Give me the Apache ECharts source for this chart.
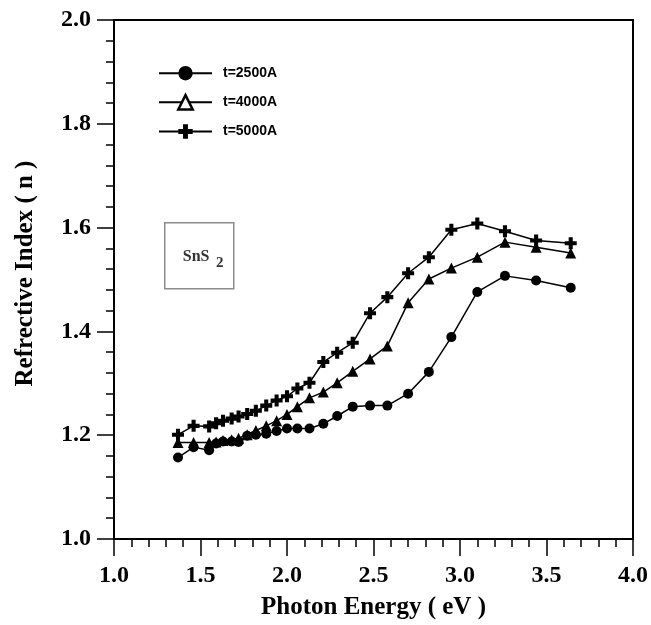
<!DOCTYPE html>
<html>
<head>
<meta charset="utf-8">
<script src="https://cdn.jsdelivr.net/npm/echarts@6/dist/echarts.min.js"></script>
<style>
  html, body { margin: 0; padding: 0; background: #fff; }
  #chart { width: 651px; height: 625px; }
</style>
</head>
<body>
<div id="chart"></div>
<script>
// Photon energy (eV) shared by the three films
const photonEnergy = [1.37, 1.46, 1.55, 1.59, 1.63, 1.68, 1.72, 1.77, 1.82, 1.88, 1.94, 2.00, 2.06,
                      2.13, 2.21, 2.29, 2.38, 2.48, 2.58, 2.70, 2.82, 2.95, 3.10, 3.26, 3.44, 3.64];

// Refractive index n for each film thickness
const n2500 = [1.157, 1.177, 1.171, 1.184, 1.188, 1.188, 1.187, 1.199, 1.201, 1.203, 1.208, 1.213, 1.213,
               1.213, 1.222, 1.237, 1.255, 1.257, 1.257, 1.280, 1.322, 1.389, 1.476, 1.507, 1.498, 1.484];
const n4000 = [1.186, 1.186, 1.186, 1.187, 1.190, 1.191, 1.194, 1.201, 1.209, 1.218, 1.228, 1.240, 1.255,
               1.272, 1.283, 1.301, 1.323, 1.347, 1.372, 1.455, 1.501, 1.522, 1.543, 1.572, 1.562, 1.551];
const n5000 = [1.201, 1.218, 1.217, 1.223, 1.228, 1.232, 1.236, 1.241, 1.247, 1.257, 1.267, 1.275, 1.290,
               1.301, 1.341, 1.359, 1.378, 1.435, 1.466, 1.512, 1.543, 1.596, 1.608, 1.593, 1.575, 1.570];

const seriesNames = ['t=2500A', 't=4000A', 't=5000A'];
const xTicks = { min: 1.0, max: 4.0, step: 0.5 };
const yTicks = { min: 1.0, max: 2.0, step: 0.2 };

const plusPath = 'path://M3.3,0h3.4v3.3h3.3v3.4h-3.3v3.3h-3.4v-3.3h-3.3v-3.4h3.3z';
const serifBold = { fontFamily: '"Liberation Serif", "DejaVu Serif", serif', fontWeight: 'bold', color: '#000' };

const pair = (ys) => photonEnergy.map((x, i) => [x, ys[i]]);

function lineSeries(name, ys, symbol, size) {
  return {
    name, type: 'line', data: pair(ys),
    symbol, symbolSize: size,
    showAllSymbol: true,
    lineStyle: { color: '#000', width: 1.5 },
    itemStyle: { color: '#000', borderColor: '#000', borderWidth: 0 },
    emphasis: { disabled: true },
    animation: false
  };
}

const chart = echarts.init(document.getElementById('chart'), null, { renderer: 'canvas' });

const axisCommon = {
  type: 'value',
  axisLine: { show: true, lineStyle: { color: '#000', width: 2 } },
  axisTick: { show: true, inside: false, length: 17, lineStyle: { color: '#000', width: 1.5 } },
  minorTick: { show: true, splitNumber: 5, length: 8, lineStyle: { color: '#000', width: 1.5 } },
  splitLine: { show: false },
  minorSplitLine: { show: false }
};

chart.setOption({
  backgroundColor: '#fff',
  animation: false,
  grid: {
    left: 114, right: 18, top: 20, bottom: 86,
    show: true, borderColor: '#000', borderWidth: 2, backgroundColor: 'transparent'
  },
  legend: {
    orient: 'vertical',
    left: 158, top: 66, padding: 0,
    itemWidth: 53, itemHeight: 18, itemGap: 13.5,
    textStyle: { fontFamily: '"Liberation Sans", Arial, sans-serif', fontWeight: 'bold', fontSize: 14, color: '#000', padding: [0, 0, 0, 6] },
    data: [
      { name: seriesNames[0] },
      { name: seriesNames[1], itemStyle: { color: '#fff', borderColor: '#000', borderWidth: 2.5 } },
      { name: seriesNames[2] }
    ]
  },
  xAxis: Object.assign({}, axisCommon, {
    min: xTicks.min, max: xTicks.max, interval: xTicks.step,
    axisLabel: Object.assign({ fontSize: 24, margin: 25, formatter: v => v.toFixed(1) }, serifBold),
    name: 'Photon Energy ( eV )',
    nameLocation: 'middle', nameGap: 56,
    nameTextStyle: Object.assign({ fontSize: 25 }, serifBold)
  }),
  yAxis: Object.assign({}, axisCommon, {
    min: yTicks.min, max: yTicks.max, interval: yTicks.step,
    axisLabel: Object.assign({ fontSize: 24, margin: 23, formatter: v => v.toFixed(1) }, serifBold),
    name: 'Refrective Index ( n )',
    nameLocation: 'middle', nameGap: 76,
    nameTextStyle: Object.assign({ fontSize: 25, padding: [0, 0, 0, 12] }, serifBold)
  }),
  series: [
    lineSeries(seriesNames[0], n2500, 'circle', 10),
    lineSeries(seriesNames[1], n4000, 'triangle', 11),
    lineSeries(seriesNames[2], n5000, plusPath, 12)
  ],
  graphic: [
    {
      type: 'group', left: 164, top: 222,
      children: [
        { type: 'rect', shape: { x: 0, y: 0, width: 69, height: 66 },
          style: { fill: '#fff', stroke: '#8c8c8c', lineWidth: 1.5 } },
        { type: 'text', x: 18, y: 21,
          style: {
            text: '{a|SnS}  {b|2}',
            rich: {
              a: { fontFamily: '"Liberation Serif", serif', fontWeight: 'bold', fontSize: 16, fill: '#333' },
              b: { fontFamily: '"Liberation Serif", serif', fontWeight: 'bold', fontSize: 15, fill: '#333', padding: [12, 0, 0, 0] }
            }
          } }
      ]
    }
  ]
});
</script>
</body>
</html>
